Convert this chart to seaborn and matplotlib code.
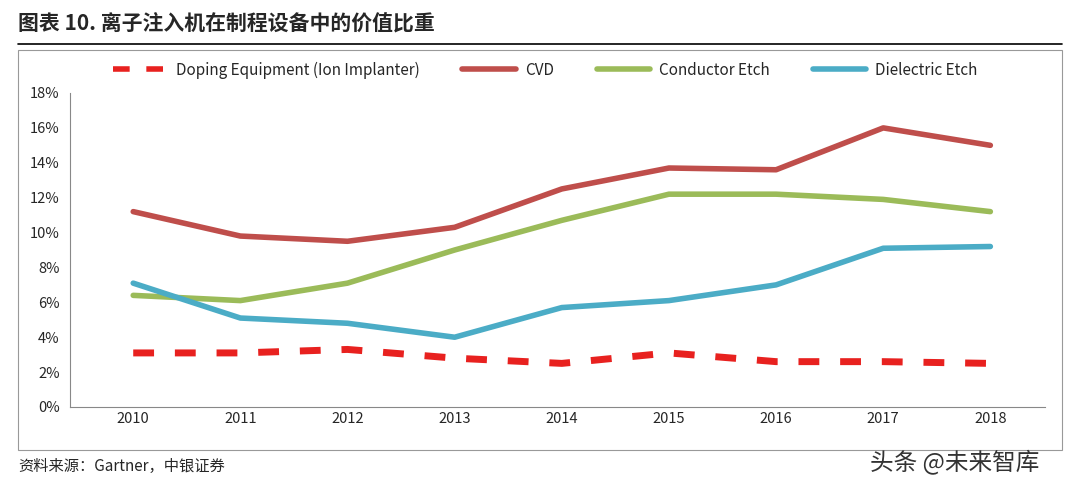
import matplotlib
matplotlib.use("Agg")
import matplotlib.pyplot as plt
import seaborn as sns
import pandas as pd
from matplotlib.patches import Rectangle
from matplotlib.lines import Line2D

years = ["2010","2011","2012","2013","2014","2015","2016","2017","2018"]
doping = [3.1, 3.1, 3.3, 2.8, 2.5, 3.1, 2.6, 2.6, 2.5]
cvd = [11.2, 9.8, 9.5, 10.3, 12.5, 13.7, 13.6, 16.0, 15.0]
conductor = [6.4, 6.1, 7.1, 9.0, 10.7, 12.2, 12.2, 11.9, 11.2]
dielectric = [7.1, 5.1, 4.8, 4.0, 5.7, 6.1, 7.0, 9.1, 9.2]
series_names = ["Doping Equipment (Ion Implanter)", "CVD", "Conductor Etch", "Dielectric Etch"]

sns.set_style("white")
plt.rcParams['font.family'] = ['Noto Sans CJK SC', 'DejaVu Sans']

fig = plt.figure(figsize=(10.8, 4.92), dpi=100)
ax = fig.add_axes([70/1080, 1-407/492, 975/1080, 314/492])

df = pd.DataFrame({"year": list(range(9)) * 4,
                   "value": doping + cvd + conductor + dielectric,
                   "series": sum([[n]*9 for n in series_names], [])})
colors = {series_names[0]: "#e8211f", series_names[1]: "#bf4e4b",
          series_names[2]: "#9bbb59", series_names[3]: "#4bacc6"}
sns.lineplot(data=df, x="year", y="value", hue="series", palette=colors, ax=ax,
             linewidth=4, legend=False)
ax.lines[0].set_dashes([3, 3])
ax.lines[0].set_linewidth(5)

ax.set_xlim(-0.59, 8.51)
ax.set_ylim(0, 18)
ax.set_yticks(range(0, 19, 2))
ax.set_yticklabels([f"{v}%" for v in range(0, 19, 2)], fontsize=10.5)
ax.set_xticks(range(9))
ax.set_xticklabels(years, fontsize=10.5)
ax.set_xlabel(""); ax.set_ylabel("")
for s in ["top", "right"]:
    ax.spines[s].set_visible(False)
for s in ["left", "bottom"]:
    ax.spines[s].set_color("#888888")
ax.set_xticks([i + 0.5 for i in range(-1, 9)], minor=True)
ax.tick_params(axis="x", which="major", length=0)
ax.tick_params(axis="x", which="minor", length=5, color="#888888")
ax.tick_params(axis="y", length=4, color="#888888")

handles = [Line2D([], [], color=colors[n], lw=4, dashes=[3, 3] if i == 0 else []) for i, n in enumerate(series_names)]
fig.legend(handles, series_names, loc="center", bbox_to_anchor=(0.505, 1-70/492), ncol=4,
           frameon=False, fontsize=11, handlelength=3.5, columnspacing=2.8, handletextpad=0.6)

fig.patches.append(Rectangle((18/1080, 1-450/492), 1044/1080, 400/492, transform=fig.transFigure,
                             fill=False, edgecolor="#999999", lw=0.8))
fig.text(18/1080, 1-24/492, "图表 10. 离子注入机在制程设备中的价值比重", fontsize=15, fontweight="bold", va="center")
fig.add_artist(Line2D([18/1080, 1062/1080], [1-44/492]*2, color="black", lw=1.2))
fig.text(18/1080, 1-466/492, "资料来源：Gartner，中银证券", fontsize=11, style="italic", va="center")
fig.text(870/1080, 1-462/492, "头条 @未来智库", fontsize=17, color="#333333", va="center")
fig.savefig("out.png", dpi=100)
